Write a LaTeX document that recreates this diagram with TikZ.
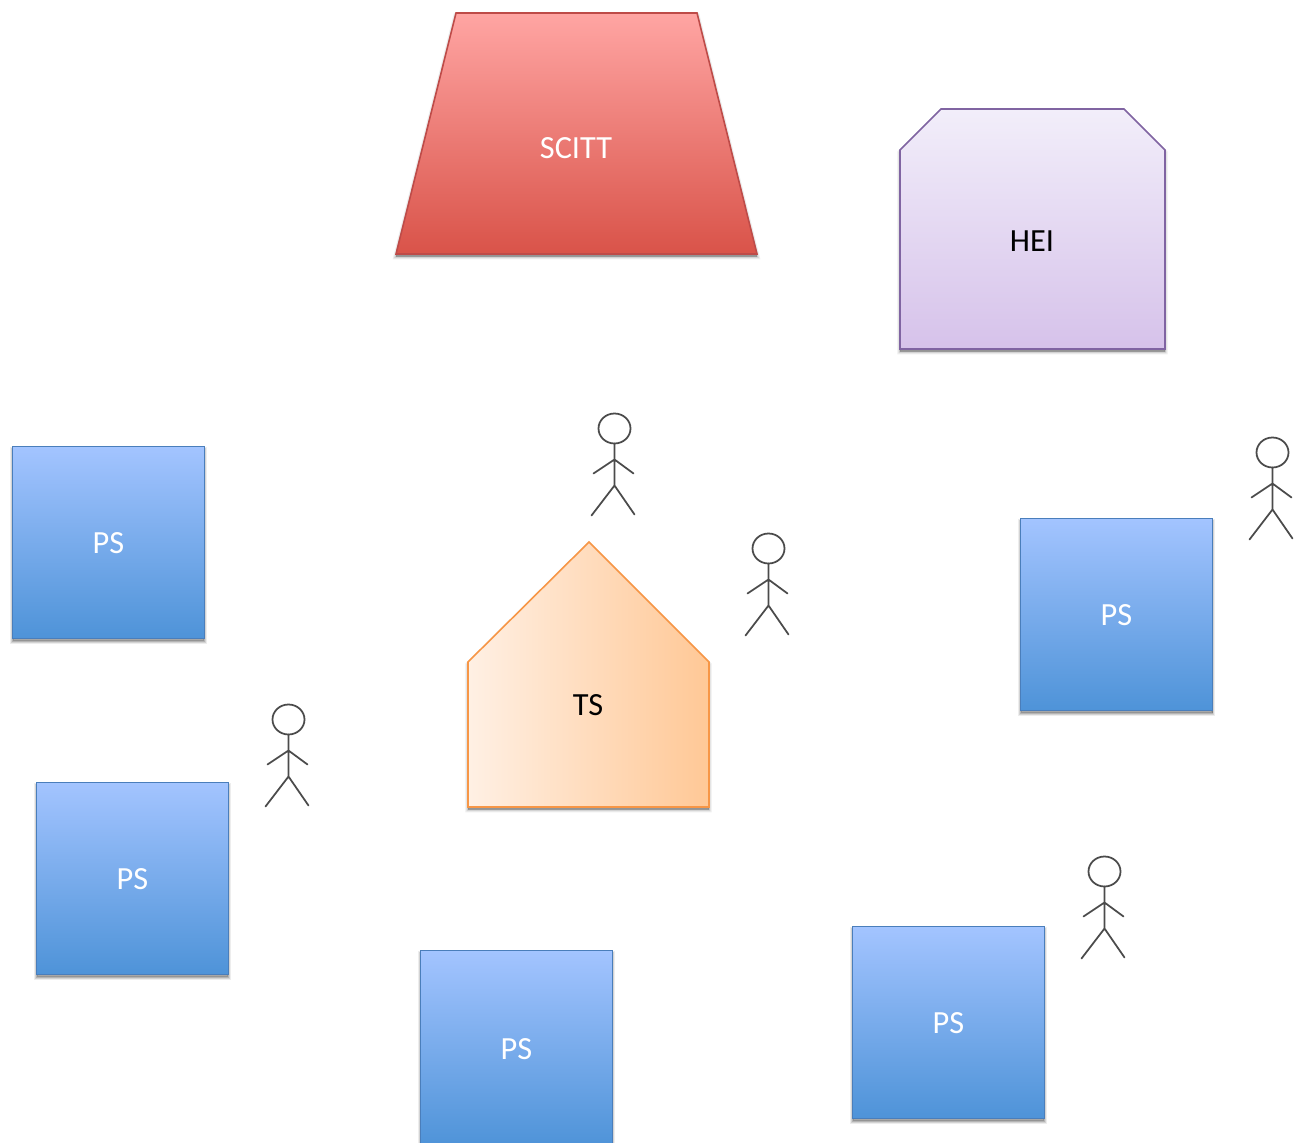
\documentclass[tikz,border=0pt]{standalone}
\usepackage{fontspec}
\setmainfont{Carlito}
\usepackage{tikz}
\usetikzlibrary{shadows}

\definecolor{pstop}{RGB}{163,196,255}
\definecolor{psbot}{RGB}{78,147,216}
\definecolor{psline}{RGB}{74,126,187}
\definecolor{scitttop}{RGB}{255,165,163}
\definecolor{scittbot}{RGB}{217,83,73}
\definecolor{scittline}{RGB}{190,75,72}
\definecolor{heitop}{RGB}{242,238,250}
\definecolor{heibot}{RGB}{214,194,234}
\definecolor{heiline}{RGB}{128,100,162}
\definecolor{tsleft}{RGB}{255,240,228}
\definecolor{tsright}{RGB}{255,200,150}
\definecolor{tsline}{RGB}{247,150,70}
\definecolor{actorline}{RGB}{75,75,75}

\tikzset{
  x=0.02cm,y=-0.02cm,
  drop/.style={
    general shadow={fill=black,draw=black,line width=3pt,opacity=0.07,shadow yshift=-1.5pt},
    general shadow={fill=black,draw=black,line width=1.6pt,opacity=0.11,shadow yshift=-1.5pt},
    general shadow={fill=black,draw=black,line width=0.4pt,opacity=0.15,shadow yshift=-1.5pt}},
  psbox/.style={draw=psline,top color=pstop,bottom color=psbot,drop,minimum width=3.84cm,minimum height=3.84cm,text=white,font=\fontsize{18.4}{22}\selectfont,text height=0.44cm,line width=0.9pt,inner sep=0pt},
  label/.style={font=\fontsize{18.4}{22}\selectfont,inner sep=0pt},
  actor/.pic={
    \draw[actorline,line width=1pt] (0,-1) ellipse (16 and 15);
    \draw[actorline,line width=1pt,line cap=round] (0,14) -- (0,56) (-21,44) -- (0,30) -- (19,44) (-23,86) -- (0,56) -- (20,85);
  }
}

\begin{document}
\begin{tikzpicture}
  \useasboundingbox (0,0) rectangle (1304,1142);
  \begin{scope}
  \clip (0,0) rectangle (1304,1142);

  % top shapes
  \draw[scittline,line width=0.9pt,top color=scitttop,bottom color=scittbot,drop]
    (456,13) -- (697,13) -- (757,254) -- (396,254) -- cycle;
  \node[label,text=white] (scitt) at (576,148) {SCITT};
  \draw[heiline,line width=0.9pt,top color=heitop,bottom color=heibot,drop]
    (941,109) -- (1124,109) -- (1165,150) -- (1165,349) -- (900,349) -- (900,150) -- cycle;
  \node[label] (hei) at (1032,241) {HEI};
  \draw[tsline,line width=0.9pt,left color=tsleft,right color=tsright,drop]
    (589,542) -- (709,662) -- (709,807) -- (468,807) -- (468,662) -- cycle;
  \node[label] (ts) at (588,705) {TS};

  % participating sites
  \node[psbox] (ps1) at (108.5,542.5) {PS};
  \node[psbox] (ps2) at (1116.5,614.5) {PS};
  \node[psbox] (ps3) at (132.5,878.5) {PS};
  \node[psbox,minimum height=3.92cm] (ps4) at (516.5,1048.5) {PS};
  \node[psbox] (ps5) at (948.5,1022.5) {PS};

  % people
  \pic at (614.5,429.5) {actor};
  \pic at (768.5,549.5) {actor};
  \pic at (1272.5,453.5) {actor};
  \pic at (288.5,720.5) {actor};
  \pic at (1104.5,872.5) {actor};
  \end{scope}
\end{tikzpicture}
\end{document}
